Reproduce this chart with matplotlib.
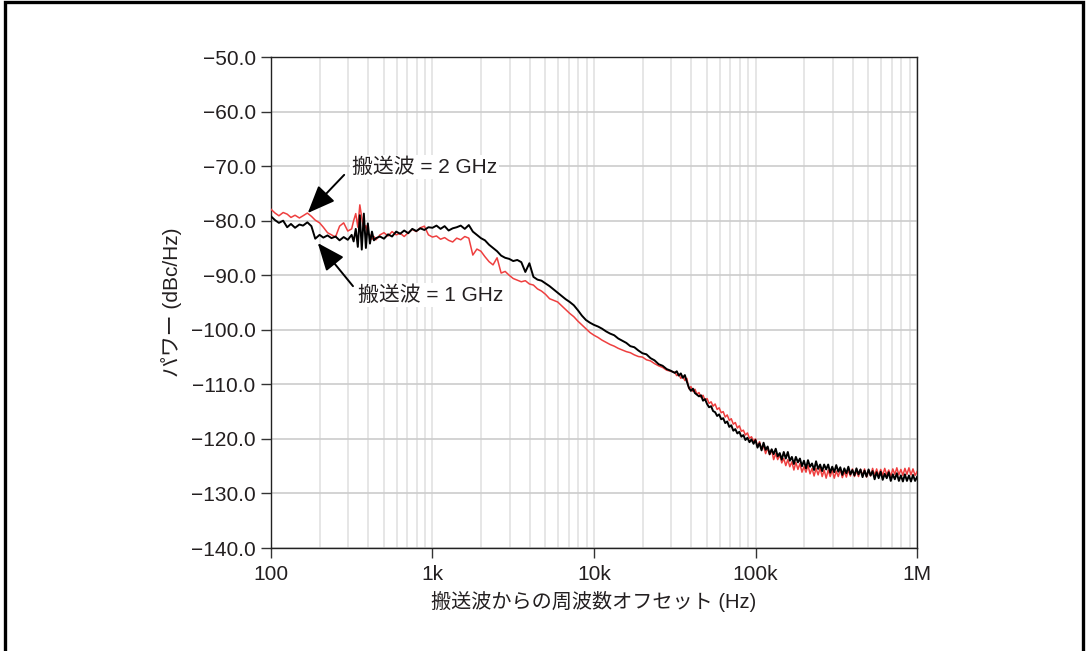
import matplotlib
matplotlib.use("Agg")
import matplotlib.pyplot as plt
from matplotlib.patches import Rectangle
from matplotlib.ticker import FixedLocator, LogLocator, NullFormatter

plt.rcParams["font.family"] = ["Liberation Sans", "Noto Sans CJK JP", "DejaVu Sans"]
plt.rcParams["axes.unicode_minus"] = True

# Offset frequency grid (Hz), shared by both traces
FREQ_HZ = [
    100, 106, 112, 119, 126, 133, 141, 150, 158, 168, 178, 188, 200, 211, 224, 237,
    251, 266, 282, 299, 316, 325, 335, 345, 355, 365, 376, 387, 398, 410, 422, 434,
    447, 473, 501, 531, 562, 596, 631, 668, 708, 750, 794, 841, 891, 944,
    1000, 1059, 1122, 1189, 1259, 1334, 1413, 1496, 1585, 1679, 1778, 1884, 1995, 2113,
    2239, 2371, 2512, 2661, 2818, 2985, 3162, 3350, 3548, 3758, 3981, 4217, 4467, 4732,
    5012, 5309, 5623, 5957, 6310, 6683, 7079, 7499, 7943, 8414, 8913, 9441,
    10000, 10590, 11220, 11890, 12590, 13340, 14130, 14960, 15850, 16790, 17780, 18840,
    19950, 21130, 22390, 23710, 25120, 26610, 28180, 29850,
    31620, 32550, 33500, 34480, 35480, 36520, 37580, 38690, 39810, 40990, 42170, 43420,
    44670, 46000, 47320, 48700, 50120, 51580, 53090, 54640, 56230, 57880, 59570, 61310,
    63100, 64940, 66830, 68790, 70790, 72870, 74990, 77200, 79430, 81770, 84140, 86600,
    89130, 91750, 94410, 97270,
    100000, 102900, 105900, 109000, 112200, 115500, 118900, 122300, 125900, 129500,
    133400, 137200, 141300, 145400, 149600, 154000, 158500, 163100, 167900, 172800,
    177800, 183100, 188400, 193900, 199500, 205400, 211300, 217600, 223900, 230500,
    237100, 244200, 251200, 258700, 266100, 273800, 281800, 290100, 298500, 307300,
    316200, 325500, 335000, 344800, 354800, 365200, 375800, 386900, 398100, 409900,
    421700, 434200, 446700, 460000, 473200, 487000, 501200, 515800, 530900, 546400,
    562300, 578800, 595700, 613100, 631000, 649400, 668300, 687900, 707900, 728700,
    749900, 772000, 794300, 817700, 841400, 866000, 891300, 917500, 944100, 972700,
    1000000,
]

# Phase noise, carrier = 1 GHz (dBc/Hz)
POWER_1GHZ = [
    -79.2, -79.9, -80.4, -80.0, -81.2, -80.6, -81.3, -80.7, -80.9, -80.3, -81.0, -83.3,
    -82.6, -83.1, -82.7, -83.2, -82.9, -83.6, -83.0, -83.5, -82.6, -83.8, -81.5, -84.8,
    -79.0, -85.3, -78.7, -85.0, -80.5, -84.2, -82.0, -83.6, -83.2, -82.9, -83.3, -82.5,
    -82.9, -82.0, -82.4, -81.8, -82.3, -81.5, -81.9, -81.4, -81.7, -81.2,
    -81.3, -80.9, -81.5, -81.0, -81.8, -81.4, -81.2, -80.9, -81.5, -80.8, -82.0, -82.6,
    -83.2, -83.6, -84.4, -85.0, -85.6, -86.4, -86.8, -87.0, -87.4, -87.2, -87.6, -89.4,
    -87.8, -90.3, -90.8, -91.0, -91.5, -92.0, -92.6, -93.2, -93.8, -94.4, -94.9, -95.5,
    -96.4, -97.4, -98.2, -98.7,
    -99.1, -99.4, -99.8, -100.3, -100.7, -101.0, -101.6, -102.0, -102.4, -103.0, -103.2,
    -103.8, -104.3, -104.5, -105.2, -105.6, -106.3, -106.6, -107.2, -107.5,
    -107.9, -107.6, -108.4, -108.0, -108.8, -108.3, -109.5, -110.6, -111.2, -110.8,
    -111.6, -111.9, -112.2, -112.0, -113.0, -112.7, -113.6, -114.2, -114.0, -114.9,
    -115.1, -115.8, -115.5, -116.4, -116.2, -117.1, -116.8, -117.8, -117.5, -118.5,
    -118.2, -119.0, -118.7, -119.6, -119.3, -120.2, -119.8, -120.6, -120.1, -120.9,
    -120.2, -121.6, -120.8, -122.1, -120.7, -122.0, -121.4, -122.8, -121.9, -122.8,
    -121.8, -123.2, -122.6, -123.8, -122.4, -123.6, -122.4, -124.0, -123.3, -124.6,
    -123.3, -124.3, -123.6, -125.0, -124.0, -125.4, -123.9, -125.1, -124.5, -125.7,
    -124.1, -125.5, -124.7, -125.9, -124.7, -125.6, -124.7, -126.2, -125.1, -126.1,
    -124.8, -126.0, -125.2, -126.6, -125.4, -126.3, -125.1, -126.5, -125.7, -126.7,
    -125.4, -126.5, -125.6, -127.0, -125.8, -126.9, -125.6, -126.7, -125.9, -127.4,
    -126.1, -127.2, -126.0, -127.5, -126.4, -127.2, -126.1, -127.7, -126.5, -127.4,
    -126.3, -127.7, -126.7, -127.8, -126.5, -127.7, -126.7, -127.8, -126.6, -127.7,
    -127.0,
]

# Phase noise, carrier = 2 GHz (dBc/Hz)
POWER_2GHZ = [
    -77.9, -78.6, -79.1, -78.5, -78.8, -79.4, -79.0, -79.5, -79.1, -78.6, -79.2, -79.9,
    -80.4, -81.2, -82.2, -82.6, -83.0, -81.0, -80.4, -81.9, -81.5, -80.0, -78.7, -81.2,
    -77.1, -79.5, -81.6, -80.9, -82.5, -82.6, -83.4, -82.9, -83.5, -82.6, -82.2, -82.8,
    -82.0, -82.6, -82.3, -82.9, -82.2, -81.6, -82.0, -81.3, -81.0, -82.6,
    -83.0, -82.8, -83.4, -83.1, -83.6, -83.9, -83.2, -83.5, -82.9, -83.2, -86.3, -85.2,
    -85.6, -86.6, -87.5, -88.1, -86.8, -89.6, -89.3, -90.0, -90.6, -90.9, -91.2, -91.0,
    -91.6, -91.8, -92.5, -92.9, -93.5, -94.3, -94.6, -94.9, -95.6, -96.3, -97.0, -97.6,
    -98.4, -99.1, -99.8, -100.5,
    -101.0, -101.4, -101.9, -102.3, -102.7, -103.0, -103.4, -103.7, -104.0, -104.2,
    -104.6, -104.9, -105.0, -105.5, -105.7, -106.2, -106.6, -106.9, -107.4, -107.6,
    -107.8, -108.4, -108.1, -108.9, -108.5, -109.3, -108.9, -110.8, -110.4, -111.3,
    -110.9, -111.8, -111.5, -112.4, -112.0, -112.9, -112.6, -113.5, -113.2, -114.0,
    -113.6, -114.6, -114.3, -115.2, -115.0, -116.0, -115.6, -116.6, -116.3, -117.3,
    -117.0, -118.0, -117.6, -118.6, -118.4, -119.3, -118.9, -119.9, -119.6, -120.4,
    -120.0, -121.4, -120.5, -121.9, -121.3, -122.7, -121.6, -122.9, -122.0, -123.8,
    -122.7, -123.8, -122.9, -124.4, -123.6, -124.9, -123.8, -125.1, -124.2, -125.7,
    -124.3, -125.6, -124.5, -126.1, -125.1, -126.1, -124.8, -126.4, -125.4, -126.8,
    -125.4, -126.6, -125.3, -126.9, -125.7, -127.2, -125.7, -126.9, -125.7, -127.2,
    -125.9, -126.9, -125.6, -127.1, -126.0, -127.0, -125.7, -126.8, -125.5, -126.9,
    -125.9, -126.9, -125.6, -126.7, -125.5, -127.0, -125.8, -126.8, -125.4, -126.7,
    -125.5, -126.8, -125.6, -126.7, -125.4, -126.6, -125.7, -126.9, -125.5, -126.5,
    -125.3, -126.6, -125.6, -126.7, -125.4, -126.5, -125.3, -126.6, -125.5, -126.7,
    -126.0,
]

Y_TICKS = [-140, -130, -120, -110, -100, -90, -80, -70, -60, -50]
X_TICKS = [100, 1000, 10000, 100000, 1000000]
X_TICK_LABELS = ["100", "1k", "10k", "100k", "1M"]

TEXT_COLOR = "#231f20"

fig = plt.figure(figsize=(10.86, 6.51), dpi=100)
fig.patch.set_facecolor("white")

# Outer frame (open at the bottom)
fig.patches.append(Rectangle((0.0050, -0.05), 0.9920, 1.0465, transform=fig.transFigure,
                             fill=False, edgecolor="black", linewidth=2.4, zorder=0))

ax = fig.add_axes([0.2495, 0.1582, 0.5949, 0.7542])
ax.set_xscale("log")
ax.set_xlim(100, 1e6)
ax.set_ylim(-140, -50)

ax.plot(FREQ_HZ, POWER_2GHZ, color="#ee3f3f", linewidth=1.1, zorder=3)
ax.plot(FREQ_HZ, POWER_1GHZ, color="black", linewidth=1.4, zorder=4)

# Grid
ax.xaxis.set_major_locator(FixedLocator(X_TICKS))
ax.xaxis.set_minor_locator(LogLocator(base=10, subs=range(2, 10), numticks=20))
ax.xaxis.set_minor_formatter(NullFormatter())
ax.set_xticklabels(X_TICK_LABELS)
ax.set_yticks(Y_TICKS)
ax.set_yticklabels([f"\u2212{abs(v):.1f}" for v in Y_TICKS])
ax.grid(True, which="major", axis="y", color="#cccccc", linewidth=1.2, zorder=1)
ax.grid(True, which="both", axis="x", color="#e2e2e2", linewidth=1.2, zorder=1)
ax.set_axisbelow(True)

ax.tick_params(axis="y", which="major", direction="out", length=7, width=1.0,
               color="#333333", labelsize=15, labelcolor=TEXT_COLOR, pad=4)
ax.tick_params(axis="x", which="major", direction="out", length=7, width=1.0,
               color="#333333", labelsize=15, labelcolor=TEXT_COLOR, pad=5)
ax.tick_params(axis="x", which="minor", length=0)
for s in ax.spines.values():
    s.set_color("#222222")
    s.set_linewidth(1.0)

ax.set_xlabel("搬送波からの周波数オフセット (Hz)", fontsize=14.5, color=TEXT_COLOR, labelpad=5)
ax.set_ylabel("パワー (dBc/Hz)", fontsize=15, color=TEXT_COLOR, labelpad=6)

arrow = dict(arrowstyle="-|>,head_length=1.7,head_width=0.7", color="black",
             linewidth=1.4, shrinkA=0, shrinkB=0)
ax.annotate("", xy=(169, -78.6), xytext=(284, -71.6), arrowprops=arrow, zorder=6)
ax.annotate("", xy=(195, -84.1), xytext=(322, -92.0), arrowprops=arrow, zorder=6)
ax.text(318, -70.1, "搬送波 = 2 GHz", fontsize=15, color=TEXT_COLOR, va="center",
        ha="left", zorder=7, bbox=dict(facecolor="white", edgecolor="none", pad=1.5))
ax.text(346, -93.6, "搬送波 = 1 GHz", fontsize=15, color=TEXT_COLOR, va="center",
        ha="left", zorder=7, bbox=dict(facecolor="white", edgecolor="none", pad=1.5))

fig.savefig("out.png", dpi=100)
